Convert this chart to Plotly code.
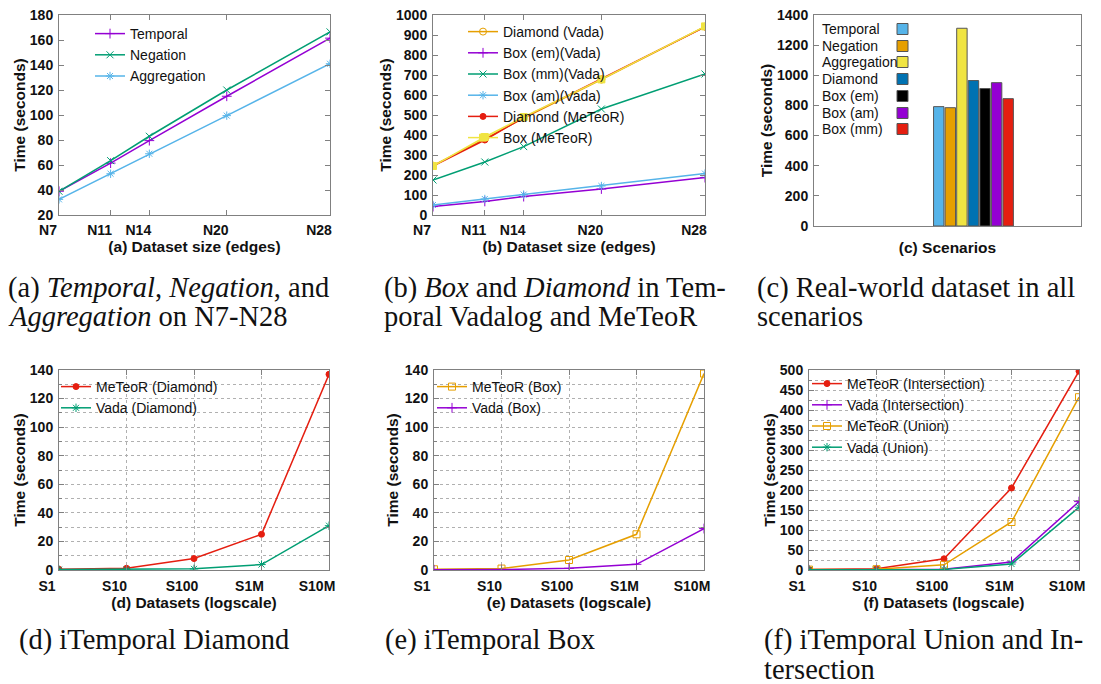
import plotly.graph_objects as go

# ---------------- data ----------------
sizes = [7, 11, 14, 20, 28]
size_labels = ["N7", "N11", "N14", "N20", "N28"]
a_temporal = [39, 61.5, 79.5, 115, 161.5]
a_negation = [39, 63.5, 83, 120, 166.5]
a_aggregation = [32.5, 53, 69, 99.5, 141]

b_diamond_vada = [247, 380, 485, 677, 942]
b_box_em_vada = [42, 68, 92, 130, 187]
b_box_mm_vada = [175, 265, 342, 530, 705]
b_box_am_vada = [50, 80, 102, 145, 207]
b_diamond_meteor = [245, 375, 487, 680, 940]
b_box_meteor = [245, 390, 490, 678, 943]

c_scenarios = ["Temporal", "Negation", "Aggregation", "Diamond", "Box (em)", "Box (am)", "Box (mm)"]
c_times = [792, 785, 1312, 965, 912, 951, 845]
c_category = ["Real-world"]

datasets = ["S1", "S10", "S100", "S1M", "S10M"]
d_meteor = [0.5, 1.2, 8, 25, 137]
d_vada = [0.3, 0.4, 0.8, 3.8, 31]
e_meteor = [0.5, 1.0, 7, 25, 137.5]
e_vada = [0.2, 0.3, 1.2, 4, 29]
f_meteor_int = [1, 3, 28, 205, 497]
f_vada_int = [0.5, 1, 2, 20, 171]
f_meteor_union = [1, 2, 13, 120, 432]
f_vada_union = [0.5, 0.8, 1.5, 15, 157]

captions = [
    "(a) <i>Temporal</i>, <i>Negation</i>, and<br><i>Aggregation</i> on N7-N28",
    "(b) <i>Box</i> and <i>Diamond</i> in Tem-<br>poral Vadalog and MeTeoR",
    "(c) Real-world dataset in all<br>scenarios",
    "(d) iTemporal Diamond",
    "(e) iTemporal Box",
    "(f) iTemporal Union and In-<br>tersection",
]

# ---------------- style ----------------
OFF = 8                      # default page body margin
W, H = 1101 - OFF, 684 - OFF
PURPLE, GREEN, LBLUE = "#9400d3", "#009e73", "#56b4e9"
ORANGE, YELLOW, DBLUE, RED, BLACK = "#e69f00", "#f0e442", "#0072b2", "#e51e10", "#000000"
c_colors = [LBLUE, ORANGE, YELLOW, DBLUE, BLACK, PURPLE, RED]
SANS = "Liberation Sans, Arial, Helvetica, sans-serif"
SERIF = "Liberation Serif, Times New Roman, serif"
FRAME = "#808080"
TXT = "#111111"


def px(x):
    return (x - OFF) / W


def py(y):
    return 1 - (y - OFF) / H


def xd(a, b):
    return [px(a), px(b)]


def yd(t, b):
    return [py(b), py(t)]


def axis(**kw):
    base = dict(showline=True, linecolor=FRAME, linewidth=1, mirror="ticks",
                ticks="inside", ticklen=5, tickcolor=FRAME, automargin=False,
                ticklabeloverflow="allow",
                tickfont=dict(family=SANS, size=14, color=TXT, weight="bold"),
                zeroline=False, showgrid=False,
                title_font=dict(family=SANS, size=15.5, color=TXT, weight="bold"))
    base.update(kw)
    return base


def line(x, y, name, color, symbol, size, xa, ya, legend):
    return go.Scatter(
        x=x, y=y, name=name, mode="lines+markers", xaxis=xa, yaxis=ya, legend=legend,
        line=dict(color=color, width=1.5),
        marker=dict(symbol=symbol, size=size, color=color,
                    line=dict(color=color, width=1)),
    )


fig = go.Figure()

# (a)
fig.add_trace(line(sizes, a_temporal, "Temporal", PURPLE, "cross-thin", 7, "x", "y", "legend"))
fig.add_trace(line(sizes, a_negation, "Negation", GREEN, "x-thin", 7, "x", "y", "legend"))
fig.add_trace(line(sizes, a_aggregation, "Aggregation", LBLUE, "asterisk", 7, "x", "y", "legend"))

# (b)
fig.add_trace(line(sizes, b_diamond_vada, "Diamond (Vada)", ORANGE, "circle-open", 7, "x2", "y2", "legend2"))
fig.add_trace(line(sizes, b_box_em_vada, "Box (em)(Vada)", PURPLE, "cross-thin", 7, "x2", "y2", "legend2"))
fig.add_trace(line(sizes, b_box_mm_vada, "Box (mm)(Vada)", GREEN, "x-thin", 7, "x2", "y2", "legend2"))
fig.add_trace(line(sizes, b_box_am_vada, "Box (am)(Vada)", LBLUE, "asterisk", 7, "x2", "y2", "legend2"))
fig.add_trace(line(sizes, b_diamond_meteor, "Diamond (MeTeoR)", RED, "circle", 6, "x2", "y2", "legend2"))
fig.add_trace(line(sizes, b_box_meteor, "Box (MeTeoR)", YELLOW, "square", 7, "x2", "y2", "legend2"))

# (c)
for name, val, col in zip(c_scenarios, c_times, c_colors):
    fig.add_trace(go.Bar(x=c_category, y=[val], name=name, xaxis="x3", yaxis="y3",
                         marker=dict(color=col, line=dict(color="#555555", width=1)),
                         showlegend=False))

# (d)
fig.add_trace(line(datasets, d_meteor, "MeTeoR (Diamond)", RED, "circle", 6, "x4", "y4", "legend3"))
fig.add_trace(line(datasets, d_vada, "Vada (Diamond)", GREEN, "asterisk", 7, "x4", "y4", "legend3"))

# (e)
fig.add_trace(line(datasets, e_meteor, "MeTeoR (Box)", ORANGE, "square-open", 7, "x5", "y5", "legend4"))
fig.add_trace(line(datasets, e_vada, "Vada (Box)", PURPLE, "cross-thin", 7, "x5", "y5", "legend4"))

# (f)
fig.add_trace(line(datasets, f_meteor_int, "MeTeoR (Intersection)", RED, "circle", 6, "x6", "y6", "legend5"))
fig.add_trace(line(datasets, f_vada_int, "Vada (Intersection)", PURPLE, "cross-thin", 7, "x6", "y6", "legend5"))
fig.add_trace(line(datasets, f_meteor_union, "MeTeoR (Union)", ORANGE, "square-open", 7, "x6", "y6", "legend5"))
fig.add_trace(line(datasets, f_vada_union, "Vada (Union)", GREEN, "asterisk", 7, "x6", "y6", "legend5"))

grid = dict(showgrid=True, gridcolor="#b0b0b0", griddash="dot", gridwidth=1)


def ygrid(dt):
    return dict(minor=dict(dtick=dt, showgrid=True, gridcolor="#b0b0b0", griddash="dot",
                           ticks="inside", ticklen=3, tickcolor=FRAME), **grid)


def leg(x, y, size=14):
    return dict(x=px(x), y=py(y), xanchor="left", yanchor="top", bgcolor="rgba(0,0,0,0)",
                font=dict(family=SANS, size=size, color=TXT), tracegroupgap=0)


cat_x = dict(type="category", range=[0, 4], ticklabelshift=-12, ticklabelstandoff=3, **grid)
num_y = dict(ticklabelstandoff=2)

fig.update_layout(
    width=W, height=H, margin=dict(l=0, r=0, t=0, b=0),
    paper_bgcolor="white", plot_bgcolor="white",
    barmode="group", bargap=0.2, bargroupgap=0.1,
    showlegend=True,
    xaxis=axis(domain=xd(59, 330), range=[7, 28], tickvals=sizes, ticktext=size_labels,
               ticklabelshift=-11, ticklabelstandoff=2, anchor="y",
               title=dict(text="(a) Dataset size (edges)", standoff=4)),
    yaxis=axis(domain=yd(15, 215), range=[20, 180], dtick=20, anchor="x", **num_y,
               title=dict(text="Time (seconds)", standoff=0)),
    xaxis2=axis(domain=xd(433, 705), range=[7, 28], tickvals=sizes, ticktext=size_labels,
                ticklabelshift=-11, ticklabelstandoff=2, anchor="y2",
                title=dict(text="(b) Dataset size (edges)", standoff=4)),
    yaxis2=axis(domain=yd(15, 215), range=[0, 1000], dtick=100, anchor="x2", **num_y,
                title=dict(text="Time (seconds)", standoff=0)),
    xaxis3=axis(domain=xd(814, 1081), type="category", range=[-1.575, 1.062],
                showticklabels=False, ticks="", anchor="y3",
                title=dict(text="(c) Scenarios", standoff=16)),
    yaxis3=axis(domain=yd(15, 226), range=[0, 1400], dtick=200, anchor="x3", **num_y,
                title=dict(text="Time (seconds)", standoff=0)),
    xaxis4=axis(domain=xd(59, 329), anchor="y4", **cat_x,
                title=dict(text="(d) Datasets (logscale)", standoff=4)),
    yaxis4=axis(domain=yd(370, 570), range=[0, 140], dtick=20, anchor="x4", **ygrid(10), **num_y,
                title=dict(text="Time (seconds)", standoff=0)),
    xaxis5=axis(domain=xd(434, 704), anchor="y5", **cat_x,
                title=dict(text="(e) Datasets (logscale)", standoff=4)),
    yaxis5=axis(domain=yd(370, 570), range=[0, 140], dtick=20, anchor="x5", **ygrid(10), **num_y,
                title=dict(text="Time (seconds)", standoff=2)),
    xaxis6=axis(domain=xd(809, 1079), anchor="y6", **cat_x,
                title=dict(text="(f) Datasets (logscale)", standoff=4)),
    yaxis6=axis(domain=yd(370, 570), range=[0, 500], dtick=50, anchor="x6", **ygrid(25), **num_y,
                title=dict(text="Time (seconds)", standoff=0)),
    legend=leg(90, 18),
    legend2=leg(463, 16),
    legend3=leg(56, 371),
    legend4=leg(432, 371),
    legend5=leg(807, 368),
)

# custom legend for (c): text left, swatch right (gnuplot style)
row_y = [29, 46, 62, 79, 96, 113, 129]
for name, col, ry in zip(c_scenarios, c_colors, row_y):
    fig.add_annotation(x=px(820), y=py(ry), xref="paper", yref="paper", text=name,
                       showarrow=False, xanchor="left", yanchor="middle",
                       font=dict(family=SANS, size=14, color=TXT))
    fig.add_shape(type="rect", xref="paper", yref="paper",
                  x0=px(897), x1=px(908), y0=py(ry + 5.5), y1=py(ry - 5.5),
                  fillcolor=col, line=dict(color="#555555", width=1))

# captions (one annotation per line for LaTeX-like line spacing)
cap_pos = [(6, 288), (382, 288), (755, 288), (17, 640), (383, 640), (762, 640)]
LINE_GAP = 29
for text, (cx, cy) in zip(captions, cap_pos):
    for i, ln in enumerate(text.split("<br>")):
        fig.add_annotation(x=px(cx), y=py(cy + i * LINE_GAP), xref="paper", yref="paper",
                           text=ln, showarrow=False, xanchor="left", yanchor="middle",
                           align="left", font=dict(family=SERIF, size=28.5, color="#111111"))

fig.write_html("out.html")
